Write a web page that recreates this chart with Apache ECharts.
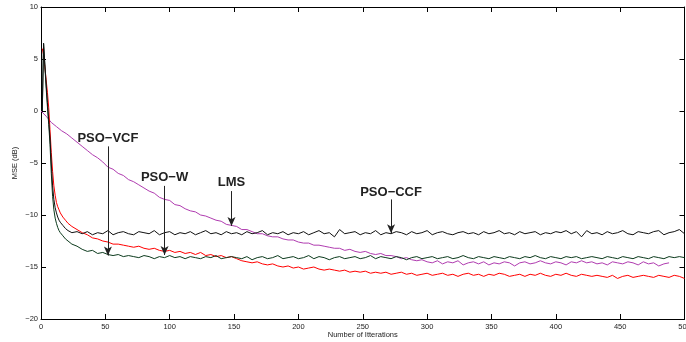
<!DOCTYPE html>
<html><head><meta charset="utf-8">
<script src="https://cdn.jsdelivr.net/npm/echarts@6/dist/echarts.min.js"></script>
<style>html,body{margin:0;padding:0;background:#fff}#c{width:686px;height:342px}</style>
</head><body><div id="c"></div>
<script>
// ---- data ----
const xTicks = [0,50,100,150,200,250,300,350,400,450,500];
const yTicks = [-20,-15,-10,-5,0,5,10];
const headIters = [1,2,3,4,5,6,7,8,9,10,11,12,13,14,15,17,19,21,24,28];
const TAIL_START = 32, TAIL_STEP = 4;

// PSO-CCF (black)
const ccfHead = [0.0,6.5,4.5,2.6,0.8,-0.9,-2.6,-5.0,-7.2,-8.5,-9.3,-9.8,-10.2,-10.5,-10.7,-11.0,-11.3,-11.5,-11.7,-11.6];
const ccfTail = [
-11.8,-11.6,-11.9,-11.7,-11.8,-11.5,-11.9,-11.7,-11.6,-11.8,
-11.9,-11.6,-11.7,-11.8,-11.5,-11.9,-11.7,-11.6,-11.9,-11.7,
-11.8,-11.6,-11.9,-11.7,-11.5,-11.8,-11.7,-11.9,-11.6,-11.8,
-11.7,-11.9,-11.6,-11.8,-11.7,-11.5,-11.9,-11.7,-11.8,-11.6,
-11.9,-11.7,-11.8,-11.6,-11.9,-11.7,-11.5,-11.8,-11.7,-12.1,
-11.4,-11.8,-11.7,-11.6,-11.9,-11.7,-11.8,-11.5,-11.9,-11.7,
-11.8,-11.6,-11.7,-11.9,-11.6,-11.8,-11.7,-11.5,-11.9,-11.7,
-11.6,-11.8,-11.9,-11.7,-11.6,-11.8,-11.7,-11.9,-11.6,-11.8,
-11.7,-11.5,-11.8,-11.7,-11.9,-11.6,-11.8,-11.7,-11.6,-11.9,
-11.7,-11.8,-11.6,-11.7,-11.5,-11.8,-11.6,-12.1,-11.5,-11.8,
-11.7,-11.9,-11.6,-11.8,-11.7,-11.5,-11.8,-11.9,-11.6,-11.7,
-11.8,-11.6,-11.5,-11.9,-11.7,-11.6,-11.4,-11.8];

// PSO-VCF (dark green)
const vcfHead = [0.0,6.5,4.3,2.2,0.4,-1.3,-3.2,-6.0,-8.2,-9.5,-10.3,-10.8,-11.2,-11.5,-11.7,-12.0,-12.3,-12.5,-12.8,-13.0];
const vcfTail = [
-13.3,-13.5,-13.4,-13.7,-13.6,-13.8,-13.9,-13.8,-14.0,-13.9,
-14.0,-14.1,-13.9,-14.0,-14.2,-14.0,-14.1,-13.9,-14.1,-14.0,
-14.2,-14.0,-14.1,-14.2,-14.0,-14.1,-13.9,-14.2,-14.1,-14.0,
-14.1,-14.2,-14.0,-14.3,-14.1,-14.0,-14.2,-14.1,-13.9,-14.2,
-14.1,-14.0,-14.2,-14.1,-13.9,-14.2,-14.0,-14.1,-14.3,-14.1,
-14.0,-14.2,-14.1,-14.0,-14.2,-14.1,-13.9,-14.2,-14.0,-14.1,
-14.2,-14.0,-14.1,-14.3,-14.1,-14.0,-14.2,-14.1,-14.0,-14.2,
-14.1,-14.0,-14.2,-14.1,-13.9,-14.1,-14.2,-14.0,-14.1,-14.2,
-14.0,-14.1,-14.2,-14.0,-14.1,-14.2,-14.0,-14.1,-13.9,-14.1,
-14.2,-14.0,-14.1,-14.2,-14.0,-14.1,-14.0,-14.2,-14.1,-14.0,
-14.1,-14.2,-14.0,-14.1,-14.2,-14.0,-14.1,-14.2,-14.0,-14.1,
-14.2,-14.0,-14.1,-14.2,-14.0,-14.1,-14.0,-14.1];

// PSO-W (red)
const wHead = [6.0,5.4,4.2,3.0,1.8,0.3,-1.8,-4.0,-5.8,-7.2,-8.1,-8.8,-9.2,-9.5,-9.8,-10.2,-10.5,-10.8,-11.1,-11.4];
const wTail = [
-11.7,-11.9,-12.2,-12.3,-12.5,-12.6,-12.8,-12.8,-12.9,-13.0,
-13.1,-13.0,-13.2,-13.3,-13.2,-13.4,-13.5,-13.4,-13.6,-13.5,
-13.7,-13.6,-13.8,-13.6,-13.9,-13.8,-14.0,-13.9,-14.1,-14.0,
-14.2,-14.4,-14.5,-14.6,-14.5,-14.7,-14.8,-14.7,-14.9,-15.0,
-14.9,-15.1,-15.0,-15.2,-15.1,-15.0,-15.2,-15.3,-15.2,-15.3,
-15.4,-15.3,-15.5,-15.4,-15.5,-15.4,-15.6,-15.5,-15.6,-15.5,
-15.7,-15.6,-15.5,-15.7,-15.6,-15.8,-15.7,-15.6,-15.8,-15.7,
-15.6,-15.8,-15.7,-15.9,-15.7,-15.6,-15.8,-15.7,-15.9,-15.7,
-15.8,-15.6,-15.7,-15.9,-15.8,-15.7,-15.9,-15.7,-15.8,-15.6,
-15.8,-15.9,-15.7,-15.8,-15.6,-15.8,-15.9,-15.7,-15.8,-15.9,
-15.8,-15.9,-16.0,-15.8,-16.1,-15.9,-15.8,-16.0,-15.9,-15.8,
-15.9,-16.0,-15.8,-15.9,-16.0,-15.8,-15.9,-16.1];

// LMS (purple), iterations 0,4,8,...
const LMS_START = 0, LMS_STEP = 4;
const lmsVals = [
0.0,-0.5,-1.1,-1.5,-1.9,-2.2,-2.6,-3.0,-3.4,-3.8,
-4.2,-4.5,-4.9,-5.4,-5.6,-6.0,-6.2,-6.6,-6.8,-7.1,
-7.4,-7.7,-7.9,-8.3,-8.5,-8.6,-9.0,-9.1,-9.4,-9.6,
-9.7,-10.0,-10.1,-10.3,-10.5,-10.6,-10.9,-11.0,-11.1,-11.4,
-11.4,-11.6,-11.8,-11.8,-12.0,-12.1,-12.1,-12.3,-12.4,-12.4,
-12.6,-12.7,-12.7,-12.9,-12.9,-13.0,-13.1,-13.2,-13.2,-13.4,
-13.3,-13.5,-13.6,-13.5,-13.7,-13.8,-13.7,-13.9,-13.9,-14.0,
-14.2,-14.1,-14.3,-14.4,-14.3,-14.5,
-14.6,-14.4,-14.7,-14.5,-14.6,-14.4,-14.8,-14.6,-14.5,-14.7,
-14.5,-14.8,-14.6,-14.7,-14.5,-14.6,-14.9,-14.6,-14.5,-14.7,
-14.6,-14.4,-14.6,-14.7,-14.5,-14.6,-14.8,-14.5,-14.6,-14.4,
-14.6,-14.5,-14.7,-14.6,-14.8,-14.5,-14.6,-14.7,-14.5,-14.6,
-14.8,-14.5,-14.7,-14.6,-14.9,-14.7,-14.6];

// annotations
const annLabels = ['PSO\u2212VCF','PSO\u2212W','LMS','PSO\u2212CCF'];
const annTextX  = [52, 96, 148, 272];
const annTextY  = [-2.65, -6.4, -6.9, -7.8];
const annArrowTop = [-3.4, -7.2, -7.7, -8.5];
const annArrowTip = [-13.9, -13.85, -11.05, -11.75];

// ---- build ----
function headTail(head, tail){
  const out = head.map((v,i)=>[headIters[i], v]);
  tail.forEach((v,i)=>out.push([TAIL_START + i*TAIL_STEP, v]));
  return out;
}
const lmsData = lmsVals.map((v,i)=>[LMS_START + i*LMS_STEP, v]);

const FONT = 'Liberation Sans, Arial, sans-serif';
const minusFmt = v => String(v).replace('-', '\u2212');

const chart = echarts.init(document.getElementById('c'), null, {renderer:'canvas'});
const axisLine = {show:true, onZero:false, lineStyle:{color:'#000', width:1}};
const ticks = {show:true, inside:true, length:5, lineStyle:{color:'#000', width:1}};

chart.setOption({
  animation:false,
  backgroundColor:'#fff',
  grid:{left:41, right:1.5, top:7, bottom:23, containLabel:false, outerBoundsMode:'none'},
  xAxis:[{
    type:'value', min:0, max:500, interval:50, position:'bottom',
    axisLine, axisTick:ticks, splitLine:{show:false},
    axisLabel:{color:'#222', fontSize:7.5, fontFamily:FONT, margin:4, hideOverlap:false},
    name:'Number of Itterations', nameLocation:'middle', nameGap:12, nameMoveOverlap:false,
    nameTextStyle:{color:'#222', fontSize:7.5, fontFamily:FONT}
  },{
    type:'value', min:0, max:500, interval:50, position:'top',
    axisLine, axisTick:ticks, axisLabel:{show:false}, splitLine:{show:false}
  }],
  yAxis:[{
    type:'value', min:-20, max:10, interval:5, position:'left',
    axisLine, axisTick:ticks, splitLine:{show:false},
    axisLabel:{color:'#222', fontSize:7.5, fontFamily:FONT, margin:3, formatter:minusFmt},
    name:'MSE (dB)', nameLocation:'middle', nameGap:22, nameRotate:90, nameMoveOverlap:false,
    nameTextStyle:{color:'#222', fontSize:7.5, fontFamily:FONT}
  },{
    type:'value', min:-20, max:10, interval:5, position:'right',
    axisLine, axisTick:ticks, axisLabel:{show:false}, splitLine:{show:false}
  }],
  series:[
    {name:'LMS', type:'line', data:lmsData, symbol:'none',
     lineStyle:{color:'#b03cb0', width:1}, silent:true},
    {name:'PSO-W', type:'line', data:headTail(wHead, wTail), symbol:'none',
     lineStyle:{color:'#ff0000', width:1}, silent:true},
    {name:'PSO-VCF', type:'line', data:headTail(vcfHead, vcfTail), symbol:'none',
     lineStyle:{color:'#0b3a1c', width:1}, silent:true},
    {name:'PSO-CCF', type:'line', data:headTail(ccfHead, ccfTail), symbol:'none',
     lineStyle:{color:'#111', width:1}, silent:true,
     markLine:{
       silent:true, symbol:['none','arrow'], symbolSize:[6,9],
       label:{show:false},
       lineStyle:{color:'#222', width:1, type:'solid'},
       data: annLabels.map((l,i)=>[{coord:[annTextX[i], annArrowTop[i]]},{coord:[annTextX[i], annArrowTip[i]]}])
     },
     markPoint:{
       silent:true, symbol:'circle', symbolSize:0,
       label:{show:true, position:'inside', color:'#222', fontSize:13, fontWeight:'bold', fontFamily:FONT,
              formatter: p => p.name},
       data: annLabels.map((l,i)=>({name:l, coord:[annTextX[i], annTextY[i]]}))
     }}
  ]
});
</script></body></html>
